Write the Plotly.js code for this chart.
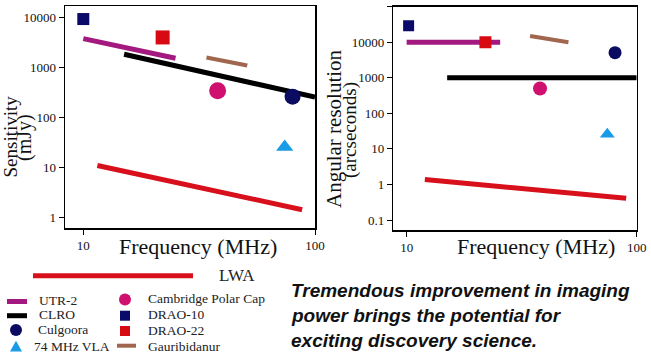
<!DOCTYPE html>
<html>
<head>
<meta charset="utf-8">
<script src="https://cdn.plot.ly/plotly-3.0.1.min.js"></script>
<style>
html,body{margin:0;padding:0;background:#fff;}
#chart{width:651px;height:357px;}
</style>
</head>
<body>
<div id="chart"></div>
<script>
// ---- Data (frequency in MHz) ----
// Left panel: sensitivity (mJy)
const lwaFreqL = [11.5, 88];
const lwaSensL = [10.7, 1.4];
const utrFreqL = [10, 25];
const utrSensL = [3700, 1500];
const clroFreqL = [15, 100];
const clroSensL = [1800, 250];
const gauriFreqL = [34, 51];
const gauriSensL = [1550, 1070];
const cambFreqL = [38];
const cambSensL = [335];
const culgFreqL = [80];
const culgSensL = [255];
const vlaFreqL = [74];
const vlaSensL = [25];
const drao10FreqL = [10];
const drao10SensL = [9100];
const drao22FreqL = [22];
const drao22SensL = [3900];

// Right panel: angular resolution (arcseconds)
const lwaFreqR = [12, 90];
const lwaResR = [1.38, 0.41];
const utrFreqR = [10, 25.5];
const utrResR = [10000, 10000];
const clroFreqR = [15, 100];
const clroResR = [1000, 1000];
const gauriFreqR = [34.4, 50.5];
const gauriResR = [15000, 10000];
const cambFreqR = [38];
const cambResR = [500];
const culgFreqR = [80.5];
const culgResR = [5100];
const vlaFreqR = [74.5];
const vlaResR = [26];
const drao10FreqR = [10.2];
const drao10ResR = [29000];
const drao22FreqR = [22];
const drao22ResR = [10000];

const xTickVals = [10, 100];
const xTickText = ['10', '100'];
const yTickValsL = [1, 10, 100, 1000, 10000];
const yTickTextL = ['1', '10', '100', '1000', '10000'];
const yTickValsR = [0.1, 1, 10, 100, 1000, 10000, 100000];
const yTickTextR = ['0.1', '1', '10', '100', '1000', '10000', '100000'];

// ---- Styles ----
const C = {
  lwa: '#d7101c', utr: '#a3197f', clro: '#000000', gauri: '#a0674e',
  camb: '#d0106f', culg: '#0b0b62', vla: '#1a9be6', drao10: '#0a0a6a', drao22: '#d70a14'
};
const W = 651, H = 357;
const px = x => x / W;
const py = y => 1 - y / H;

function line(x, y, color, width, xa, ya) {
  return {x, y, xaxis: xa, yaxis: ya, type: 'scatter', mode: 'lines',
    line: {color, width}, showlegend: false, hoverinfo: 'skip'};
}
function mark(x, y, color, symbol, size, xa, ya) {
  return {x, y, xaxis: xa, yaxis: ya, type: 'scatter', mode: 'markers',
    marker: {color, symbol, size, line: {width: 0}}, showlegend: false, hoverinfo: 'skip'};
}

const traces = [
  line(lwaFreqL, lwaSensL, C.lwa, 5, 'x', 'y'),
  line(clroFreqL, clroSensL, C.clro, 5, 'x', 'y'),
  line(utrFreqL, utrSensL, C.utr, 5, 'x', 'y'),
  line(gauriFreqL, gauriSensL, C.gauri, 4, 'x', 'y'),
  mark(drao10FreqL, drao10SensL, C.drao10, 'square', 12, 'x', 'y'),
  mark(drao22FreqL, drao22SensL, C.drao22, 'square', 14, 'x', 'y'),
  mark(cambFreqL, cambSensL, C.camb, 'circle', 17, 'x', 'y'),
  mark(culgFreqL, culgSensL, C.culg, 'circle', 16, 'x', 'y'),
  mark(vlaFreqL, vlaSensL, C.vla, 'triangle-up', 15, 'x', 'y'),

  line(lwaFreqR, lwaResR, C.lwa, 5, 'x2', 'y2'),
  line(clroFreqR, clroResR, C.clro, 5, 'x2', 'y2'),
  line(utrFreqR, utrResR, C.utr, 5, 'x2', 'y2'),
  line(gauriFreqR, gauriResR, C.gauri, 4, 'x2', 'y2'),
  mark(drao10FreqR, drao10ResR, C.drao10, 'square', 11, 'x2', 'y2'),
  mark(drao22FreqR, drao22ResR, C.drao22, 'square', 12, 'x2', 'y2'),
  mark(cambFreqR, cambResR, C.camb, 'circle', 14, 'x2', 'y2'),
  mark(culgFreqR, culgResR, C.culg, 'circle', 13, 'x2', 'y2'),
  mark(vlaFreqR, vlaResR, C.vla, 'triangle-up', 13, 'x2', 'y2')
];

const serif = 'Liberation Serif';
const axisBase = {
  type: 'log', showgrid: false, zeroline: false, showline: true, mirror: true,
  linecolor: '#000', linewidth: 1.5, ticks: 'outside', ticklen: 5, tickwidth: 1,
  tickcolor: '#000', tickfont: {family: serif, size: 13, color: '#111'}, fixedrange: true
};

const layout = {
  width: W, height: H,
  margin: {l: 0, r: 0, t: 0, b: 0},
  paper_bgcolor: '#fff', plot_bgcolor: '#fff',
  showlegend: false,
  xaxis: Object.assign({}, axisBase, {domain: [px(65), px(315)], range: [0.921, 2.0],
    tickvals: xTickVals, ticktext: xTickText, anchor: 'y'}),
  yaxis: Object.assign({}, axisBase, {domain: [py(228), py(6)], range: [-0.22, 4.22],
    tickvals: yTickValsL, ticktext: yTickTextL, anchor: 'x'}),
  xaxis2: Object.assign({}, axisBase, {domain: [px(393.3), px(636.7)], range: [0.942, 2.0],
    tickvals: xTickVals, ticktext: xTickText, anchor: 'y2'}),
  yaxis2: Object.assign({}, axisBase, {domain: [py(230), py(6.7)], range: [-1.28, 5.0],
    tickvals: yTickValsR, ticktext: yTickTextR, anchor: 'x2'}),
  shapes: [],
  annotations: []
};

function ann(text, x, y, opts) {
  layout.annotations.push(Object.assign({
    text, x: px(x), y: py(y), xref: 'paper', yref: 'paper', showarrow: false,
    xanchor: 'center', yanchor: 'middle',
    font: {family: serif, size: 20, color: '#111'}
  }, opts || {}));
}

// Axis titles
ann('Frequency (MHz)', 198, 246, {font: {family: serif, size: 22, color: '#111'}});
ann('Frequency (MHz)', 536, 246, {font: {family: serif, size: 22, color: '#111'}});
ann('Sensitivity', 9.5, 137, {textangle: -90, font: {family: serif, size: 19, color: '#111'}});
ann('(mJy)', 25, 138, {textangle: -90, font: {family: serif, size: 20, color: '#111'}});
ann('Angular resolution', 334, 129, {textangle: -90, font: {family: serif, size: 21, color: '#111'}});
ann('(arcseconds)', 350, 130, {textangle: -90, font: {family: serif, size: 19, color: '#111'}});

// Legend
function lshape(x0, x1, y, color, width) {
  layout.shapes.push({type: 'line', xref: 'paper', yref: 'paper',
    x0: px(x0), x1: px(x1), y0: py(y), y1: py(y), line: {color, width}});
}
function lcircle(cx, cy, r, color) {
  layout.shapes.push({type: 'circle', xref: 'paper', yref: 'paper',
    x0: px(cx - r), x1: px(cx + r), y0: py(cy + r), y1: py(cy - r),
    fillcolor: color, line: {width: 0}});
}
function lrect(cx, cy, r, color) {
  layout.shapes.push({type: 'rect', xref: 'paper', yref: 'paper',
    x0: px(cx - r), x1: px(cx + r), y0: py(cy + r), y1: py(cy - r),
    fillcolor: color, line: {width: 0}});
}
function ltri(cx, cy, r, color) {
  layout.shapes.push({type: 'path', xref: 'paper', yref: 'paper',
    path: `M ${px(cx - r)} ${py(cy + r * 0.85)} L ${px(cx + r)} ${py(cy + r * 0.85)} L ${px(cx)} ${py(cy - r * 0.95)} Z`,
    fillcolor: color, line: {width: 0}});
}
const legFont = {family: serif, size: 13.5, color: '#222'};
const L = {xanchor: 'left', font: legFont};

lshape(33, 193, 275.7, C.lwa, 5);
ann('LWA', 217, 275, {xanchor: 'left', font: {family: serif, size: 17, color: '#222'}});

lshape(7, 27, 301.5, C.utr, 5);
ann('UTR-2', 37, 300, L);
lshape(7, 27, 315.7, C.clro, 5);
ann('CLRO', 37, 314, L);
lcircle(16, 330, 6, C.culg);
ann('Culgoora', 36, 329, L);
ltri(16, 346.5, 6, C.vla);
ann('74 MHz VLA', 32, 346, L);

lcircle(125, 299.5, 6, C.camb);
ann('Cambridge Polar Cap', 146, 298, L);
lrect(125, 315.7, 5, C.drao10);
ann('DRAO-10', 146, 314, L);
lrect(125, 331, 5, C.drao22);
ann('DRAO-22', 146, 330, L);
lshape(117, 136, 345.7, C.gauri, 4);
ann('Gauribidanur', 146, 346, L);

// Message text
const msgFont = {family: 'Liberation Sans', size: 19, color: '#111'};
ann('<b><i>Tremendous improvement in imaging</i></b>', 289, 290, {xanchor: 'left', font: msgFont});
ann('<b><i>power brings the potential for</i></b>', 289, 315, {xanchor: 'left', font: msgFont});
ann('<b><i>exciting discovery science.</i></b>', 289, 340, {xanchor: 'left', font: msgFont});

Plotly.newPlot('chart', traces, layout, {staticPlot: true, displayModeBar: false});
</script>
</body>
</html>
